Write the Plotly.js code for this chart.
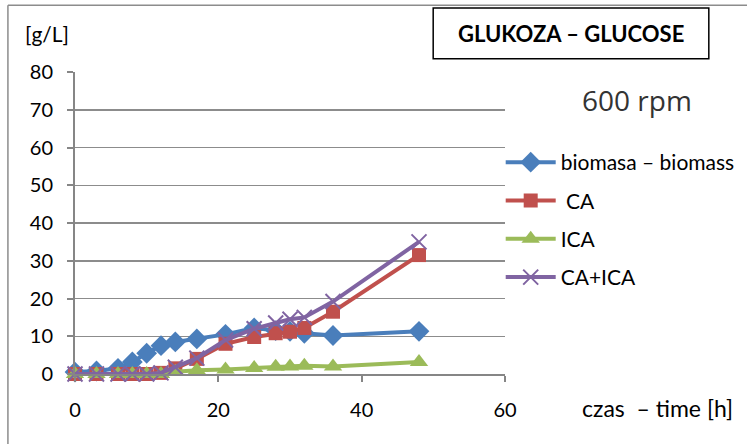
<!DOCTYPE html>
<html>
<head>
<meta charset="utf-8">
<script src="https://cdn.plot.ly/plotly-3.0.1.min.js"></script>
<style>
  html, body { margin: 0; padding: 0; background: #fff; }
  #chart { width: 747px; height: 444px; }
</style>
</head>
<body>
<div id="chart"></div>
<script>
// Sampling times [h]
const time = [0, 3, 6, 8, 10, 12, 14, 17, 21, 25, 28, 30, 32, 36, 48];

// Concentrations [g/L]
const biomass = [0.5, 0.8, 1.5, 3.2, 5.5, 7.5, 8.5, 9.3, 10.5, 12.2, 11.5, 11.3, 10.8, 10.2, 11.3];
const ca      = [0, 0, 0, 0, 0, 0.3, 1.5, 4.0, 8.0, 9.8, 10.8, 11.2, 12.2, 16.5, 31.5];
const ica     = [0, 0, 0, 0, 0, 0, 0.6, 1.0, 1.2, 1.6, 1.9, 2.0, 2.2, 2.0, 3.2];
const caIca   = [0, 0, 0, 0, 0, 0.3, 1.8, 4.2, 9.0, 12.0, 13.5, 14.5, 15.0, 19.2, 35.0];

// Legend labels and axis ticks
const seriesNames = ['biomasa – biomass', ' CA', 'ICA', 'CA+ICA'];
const xTicks = [0, 20, 40, 60];
const yTicks = [0, 10, 20, 30, 40, 50, 60, 70, 80];

const FONT = 'Lato, "Open Sans", sans-serif';

function series(y, name, color, symbol, size, group) {
  const marker = { symbol: symbol, size: size, color: color };
  if (symbol === 'x-thin') marker.line = { color: color, width: 2 };
  return {
    x: time, y: y, name: name, type: 'scatter', mode: 'lines+markers',
    line: { color: color, width: 4 }, marker: marker,
    legendgroup: group, cliponaxis: false
  };
}

const data = [
  series(biomass, seriesNames[0], '#4A7EBB', 'diamond', 16, 'g1'),
  series(ca,      seriesNames[1], '#C0504D', 'square', 14, 'g2'),
  series(ica,     seriesNames[2], '#9BBB59', 'triangle-up', 16, 'g3'),
  series(caIca,   seriesNames[3], '#8064A2', 'x-thin', 15, 'g4')
];

const layout = {
  width: 747, height: 444,
  margin: { l: 75, r: 242, t: 72, b: 70, autoexpand: false },
  paper_bgcolor: '#fff', plot_bgcolor: '#fff',
  font: { family: FONT, size: 20, color: '#000' },
  showlegend: true,
  legend: {
    x: 0.99, xanchor: 'left', y: 0.768, yanchor: 'top',
    font: { family: FONT, size: 21, color: '#000' },
    tracegroupgap: 8, itemwidth: 50, bgcolor: 'rgba(0,0,0,0)'
  },
  xaxis: {
    range: [0, 60], tickvals: xTicks, ticktext: xTicks.map(String),
    showgrid: false, zeroline: false,
    showline: true, linecolor: '#868686', linewidth: 2,
    ticks: 'outside', ticklen: 6, tickwidth: 2, tickcolor: '#868686',
    ticklabelstandoff: 11,
    tickfont: { family: FONT, size: 20, color: '#000' }
  },
  yaxis: {
    range: [0, 80], tickvals: yTicks, ticktext: yTicks.map(String),
    showgrid: true, gridcolor: '#8C8C8C', gridwidth: 1.5, zeroline: false,
    showline: true, linecolor: '#868686', linewidth: 2,
    ticks: 'outside', ticklen: 6, tickwidth: 2, tickcolor: '#868686',
    ticklabelstandoff: 10,
    tickfont: { family: FONT, size: 20, color: '#000' }
  },
  shapes: [
    // outer frame (top and left edges)
    { type: 'line', xref: 'paper', yref: 'paper', x0: -0.156, x1: 1.6, y0: 1.221, y1: 1.221,
      line: { color: '#8C8C8C', width: 1.5 } },
    { type: 'line', xref: 'paper', yref: 'paper', x0: -0.156, x1: -0.156, y0: 1.221, y1: -0.3,
      line: { color: '#8C8C8C', width: 1.5 } },
    // title box
    { type: 'rect', xref: 'paper', yref: 'paper', x0: 0.833, x1: 1.474, y0: 1.044, y1: 1.212,
      line: { color: '#000', width: 1.5 }, fillcolor: 'rgba(0,0,0,0)' }
  ],
  annotations: [
    { text: '<b>GLUKOZA – GLUCOSE</b>', xref: 'paper', yref: 'paper', x: 1.1535, y: 1.129,
      xanchor: 'center', yanchor: 'middle', showarrow: false,
      font: { family: FONT, size: 22, color: '#000' } },
    { text: '600 rpm', xref: 'paper', yref: 'paper', x: 1.307, y: 0.907,
      xanchor: 'center', yanchor: 'middle', showarrow: false,
      font: { family: '"Open Sans", sans-serif', size: 28, color: '#333' } },
    { text: '[g/L]', xref: 'paper', yref: 'paper', x: -0.065, y: 1.127,
      xanchor: 'center', yanchor: 'middle', showarrow: false,
      font: { family: FONT, size: 21, color: '#000' } },
    { text: 'czas\u00a0\u00a0– time [h]', xref: 'paper', yref: 'paper', x: 1.355, y: -0.113,
      xanchor: 'center', yanchor: 'middle', showarrow: false,
      font: { family: FONT, size: 23, color: '#000' } }
  ]
};

Plotly.newPlot('chart', data, layout, { displayModeBar: false, staticPlot: true });
</script>
</body>
</html>
